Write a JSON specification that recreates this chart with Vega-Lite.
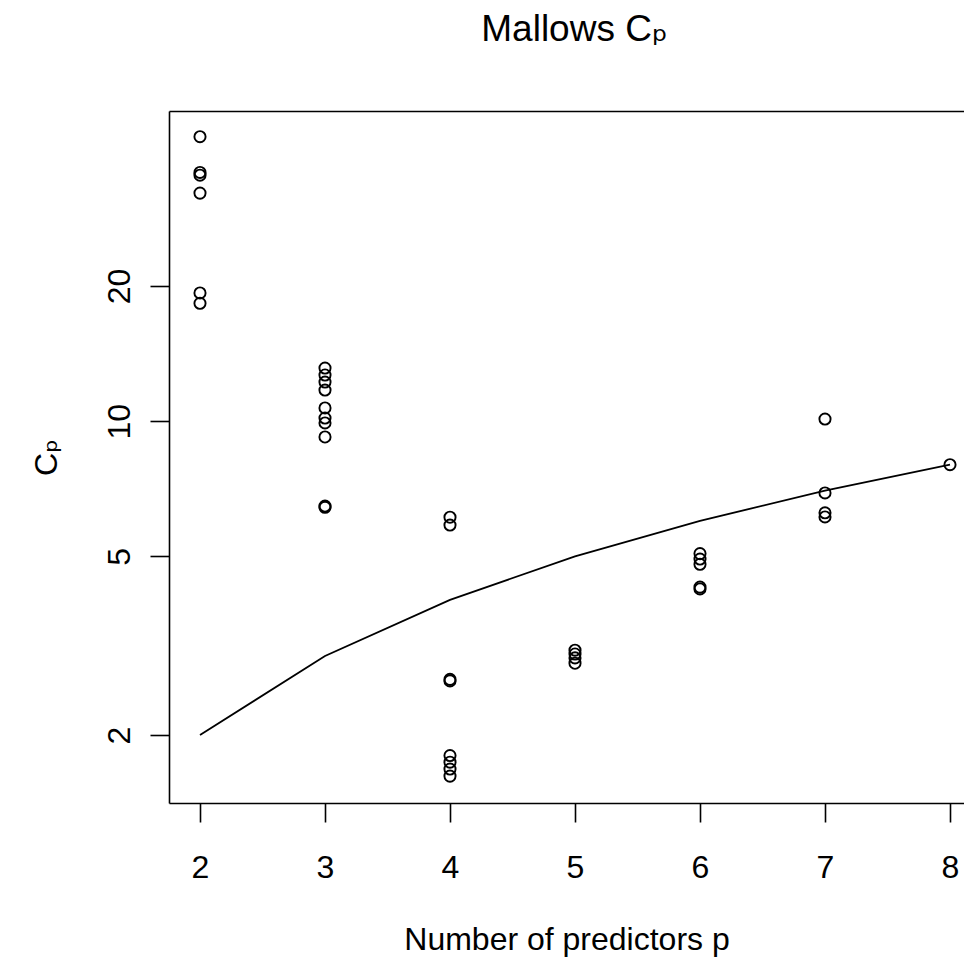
{
  "$schema": "https://vega.github.io/schema/vega-lite/v6.json",
  "width": 795,
  "height": 692,
  "autosize": {"type": "none"},
  "padding": {"left": 169, "top": 111, "right": 0, "bottom": 156},
  "background": "white",
  "title": {
    "text": "Mallows Cₚ",
    "font": "Liberation Sans, Arial, DejaVu Sans, sans-serif",
    "fontSize": 37,
    "fontWeight": "normal",
    "color": "black",
    "anchor": "middle",
    "frame": "group",
    "baseline": "alphabetic",
    "offset": 33,
    "dx": 8
  },
  "config": {
    "view": {"stroke": null},
    "axis": {
      "grid": false,
      "labelFont": "Liberation Sans, Arial, DejaVu Sans, sans-serif",
      "titleFont": "Liberation Sans, Arial, DejaVu Sans, sans-serif",
      "labelColor": "black",
      "titleColor": "black",
      "tickColor": "black",
      "domainColor": "black",
      "labelFontSize": 32,
      "titleFontSize": 32,
      "titleFontWeight": "normal",
      "tickWidth": 1.6,
      "domainWidth": 1.6,
      "labelOverlap": false,
      "labelFlush": false
    }
  },
  "datasets": {
    "models": [
      {"p": 2, "cp": 43.0}, {"p": 2, "cp": 35.8}, {"p": 2, "cp": 35.3}, {"p": 2, "cp": 32.2}, {"p": 2, "cp": 19.3}, {"p": 2, "cp": 18.3},
      {"p": 3, "cp": 13.13}, {"p": 3, "cp": 12.67}, {"p": 3, "cp": 12.22}, {"p": 3, "cp": 11.73}, {"p": 3, "cp": 10.70}, {"p": 3, "cp": 10.16}, {"p": 3, "cp": 9.91}, {"p": 3, "cp": 9.22}, {"p": 3, "cp": 6.47}, {"p": 3, "cp": 6.43},
      {"p": 4, "cp": 6.11}, {"p": 4, "cp": 5.87}, {"p": 4, "cp": 2.66}, {"p": 4, "cp": 2.64}, {"p": 4, "cp": 1.80}, {"p": 4, "cp": 1.74}, {"p": 4, "cp": 1.68}, {"p": 4, "cp": 1.62},
      {"p": 5, "cp": 3.09}, {"p": 5, "cp": 3.03}, {"p": 5, "cp": 2.97}, {"p": 5, "cp": 2.89},
      {"p": 6, "cp": 5.07}, {"p": 6, "cp": 4.93}, {"p": 6, "cp": 4.80}, {"p": 6, "cp": 4.27}, {"p": 6, "cp": 4.23},
      {"p": 7, "cp": 10.11}, {"p": 7, "cp": 6.92}, {"p": 7, "cp": 6.25}, {"p": 7, "cp": 6.12},
      {"p": 8, "cp": 8.0}
    ],
    "ref": [
      {"p": 2, "cp": 2}, {"p": 3, "cp": 3}, {"p": 4, "cp": 4}, {"p": 5, "cp": 5}, {"p": 6, "cp": 6}, {"p": 7, "cp": 7}, {"p": 8, "cp": 8}
    ]
  },
  "layer": [
    {
      "data": {"name": "models"},
      "mark": {"type": "point", "shape": "circle", "filled": false, "stroke": "black", "strokeWidth": 1.9, "size": 125, "opacity": 1},
      "encoding": {
        "x": {
          "field": "p", "type": "quantitative",
          "scale": {"domain": [1.752, 8.112], "nice": false, "zero": false},
          "axis": {
            "orient": "bottom",
            "values": [2, 3, 4, 5, 6, 7, 8],
            "tickSize": 19,
            "labelBaseline": "alphabetic",
            "labelPadding": 55,
            "title": "Number of predictors p",
            "titleBaseline": "alphabetic",
            "titleAlign": "center",
            "titleY": 146
          }
        },
        "y": {
          "field": "cp", "type": "quantitative",
          "scale": {"type": "log", "domain": [1.4114, 49.06], "nice": false},
          "axis": {
            "orient": "left",
            "values": [2, 5, 10, 20],
            "tickSize": 19,
            "labelAngle": 270,
            "labelAlign": "center",
            "labelBaseline": "alphabetic",
            "labelPadding": 21,
            "title": "Cₚ",
            "titleAngle": 270,
            "titleAlign": "center",
            "titleBaseline": "alphabetic",
            "titleX": -113,
            "titleY": 346
          }
        }
      }
    },
    {
      "data": {"name": "ref"},
      "mark": {"type": "line", "color": "black", "strokeWidth": 1.8},
      "encoding": {
        "x": {
          "field": "p", "type": "quantitative",
          "axis": {"orient": "top", "ticks": false, "labels": false, "domain": true, "title": null}
        },
        "y": {"field": "cp", "type": "quantitative"}
      }
    }
  ],
  "resolve": {"axis": {"x": "independent"}}
}
